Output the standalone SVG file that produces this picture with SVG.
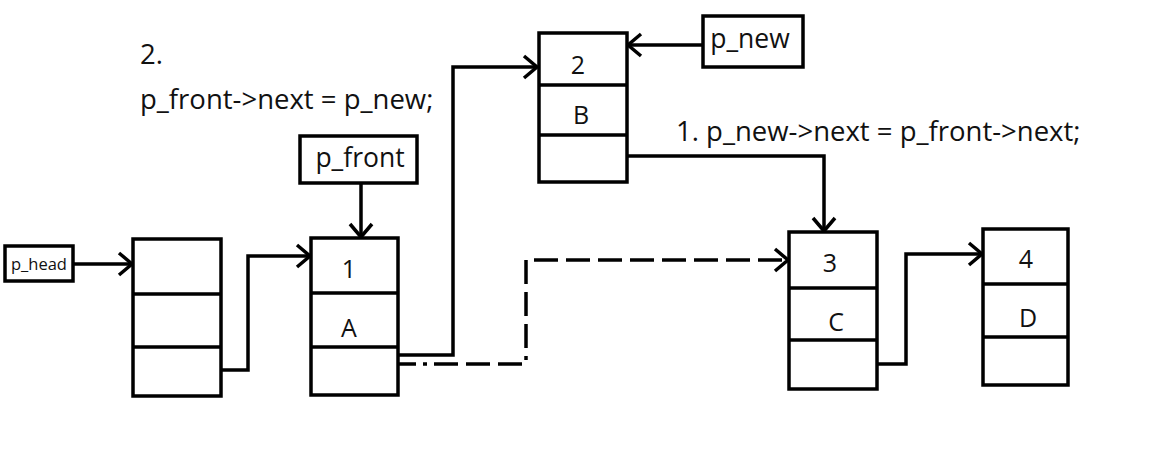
<svg xmlns="http://www.w3.org/2000/svg" width="1165" height="463" viewBox="0 0 1165 463">
<style>
.box{fill:#fff;stroke:#000;stroke-width:3.5}
.ln{fill:none;stroke:#000;stroke-width:3.5}
.t{font-family:"Open Sans","Noto Sans",sans-serif;fill:#111;text-anchor:middle}
.lbl{font-family:"Open Sans","Noto Sans",sans-serif;fill:#111;font-size:27.5px}
</style>
<defs>
<marker id="ah" markerUnits="userSpaceOnUse" markerWidth="18" markerHeight="26" refX="15" refY="13" orient="auto" viewBox="0 0 18 26">
<path d="M2,2 L15,13 L2,24" fill="none" stroke="#000" stroke-width="3.5"/>
</marker>
</defs>
<rect width="1165" height="463" fill="#fff"/>
<g id="connectors">
<path class="ln" d="M73,264 H132" marker-end="url(#ah)"/>
<path class="ln" d="M221,370 H248 V256 H310" marker-end="url(#ah)"/>
<path class="ln" d="M361,183 V237" marker-end="url(#ah)"/>
<path class="ln" d="M398,355 H453 V67 H537" marker-end="url(#ah)"/>
<path class="ln" d="M398,364 H526 V260 H788" stroke-dasharray="18,7,4,7,24,8,24,8,24,8,4,8,24,8,24,8,24,8,24,8,24,8,24,8,24,8,24,8,24,8,24,8,24,8" marker-end="url(#ah)"/>
<path class="ln" d="M703,45 H628" marker-end="url(#ah)"/>
<path class="ln" d="M627,156 H824 V231" marker-end="url(#ah)"/>
<path class="ln" d="M877,364 H906 V254 H982" marker-end="url(#ah)"/>
</g>
<g id="p_head">
<rect class="box" x="5" y="246" width="68" height="35"/>
<text class="t" x="39" y="270" font-size="16.5">p_head</text>
</g>
<g id="p_front">
<rect class="box" x="300" y="136" width="117" height="47"/>
<text class="t" x="360" y="167" font-size="26.5">p_front</text>
</g>
<g id="p_new">
<rect class="box" x="703" y="16" width="100" height="51"/>
<text class="t" x="750" y="48" font-size="26.5">p_new</text>
</g>
<g id="head">
<rect class="box" x="133" y="239" width="88" height="157"/>
<path class="ln" d="M133,294 H221 M133,347 H221"/>
</g>
<g id="node1">
<rect class="box" x="311" y="238" width="87" height="157"/>
<path class="ln" d="M311,293 H398 M311,347 H398"/>
<text class="t" x="349" y="278" font-size="25">1</text>
<text class="t" x="349" y="337" font-size="25">A</text>
</g>
<g id="node2">
<rect class="box" x="539" y="33" width="88" height="149"/>
<path class="ln" d="M539,85 H627 M539,135 H627"/>
<text class="t" x="578" y="74" font-size="25">2</text>
<text class="t" x="581" y="124" font-size="25">B</text>
</g>
<g id="node3">
<rect class="box" x="789" y="232" width="88" height="157"/>
<path class="ln" d="M789,288 H877 M789,340 H877"/>
<text class="t" x="830" y="272" font-size="25">3</text>
<text class="t" x="836" y="331" font-size="25">C</text>
</g>
<g id="node4">
<rect class="box" x="983" y="229" width="85" height="156"/>
<path class="ln" d="M983,284 H1068 M983,337 H1068"/>
<text class="t" x="1026" y="268" font-size="25">4</text>
<text class="t" x="1028" y="327" font-size="25">D</text>
</g>
<g id="labels">
<text class="lbl" x="140" y="64">2.</text>
<text class="lbl" x="140" y="109">p_front-&gt;next = p_new;</text>
<text class="lbl" x="676" y="141">1. p_new-&gt;next = p_front-&gt;next;</text>
</g>
</svg>
